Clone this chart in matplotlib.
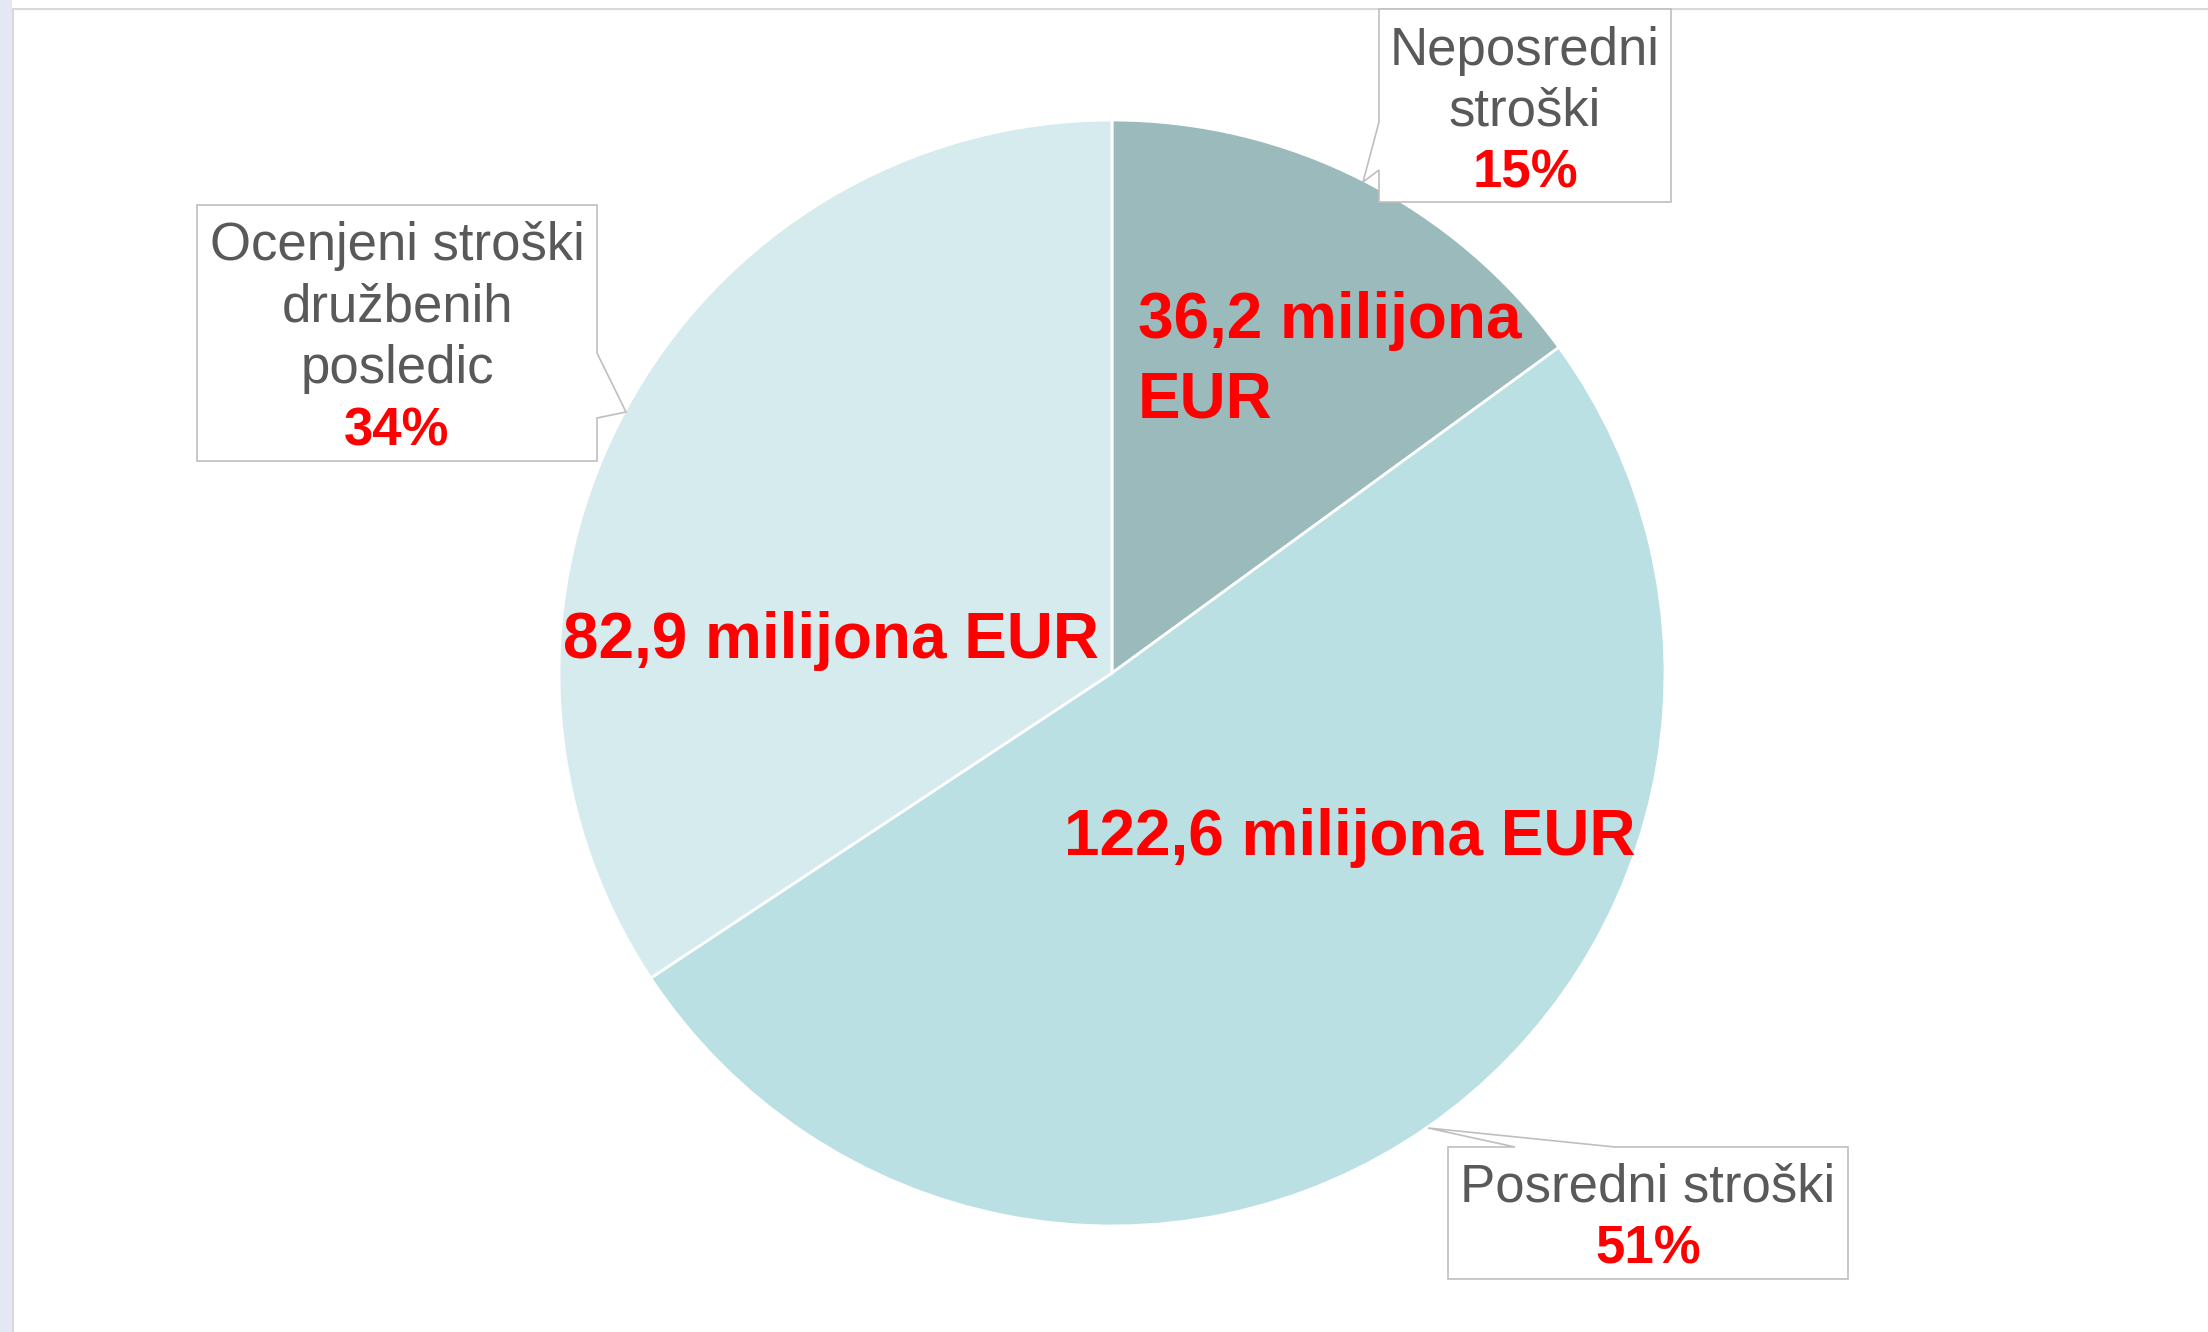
import matplotlib
matplotlib.use("Agg")
import matplotlib.pyplot as plt
from matplotlib.patches import Polygon, Rectangle

plt.rcParams['font.family'] = ['Liberation Sans', 'DejaVu Sans']

# data (milijona EUR)
categories = ["Neposredni stroški", "Posredni stroški", "Ocenjeni stroški družbenih posledic"]
values = [36.2, 122.6, 82.9]
colors = ["#9BBABB", "#BAE0E3", "#D6EBEE"]
value_labels = ["36,2 milijona\nEUR", "122,6 milijona EUR", "82,9 milijona EUR"]
box_lines = [["Neposredni", "stroški"], ["Posredni stroški"], ["Ocenjeni stroški", "družbenih", "posledic"]]

W, H = 2208, 1332
fig = plt.figure(figsize=(W / 100, H / 100), dpi=100)
ax = fig.add_axes([0, 0, 1, 1])


def py(y):
    # pixel row (from top) -> data y
    return H - y


total = sum(values)
pcts = [round(v / total * 100) for v in values]

ax.pie(values, colors=colors, startangle=90, counterclock=False,
       center=(1112, py(673)), radius=553,
       wedgeprops=dict(edgecolor="white", linewidth=2.0))
ax.set_xlim(0, W)
ax.set_ylim(0, H)
ax.set_aspect("equal")
ax.axis("off")

# frame like the slide
ax.add_patch(Rectangle((0, 0), 12, H, facecolor="#E3E8F2", edgecolor="none", zorder=0))
ax.plot([13, W], [py(9), py(9)], color="#D9D9D9", lw=1.5, zorder=1)
ax.plot([13, 13], [0, py(9)], color="#D9D9D9", lw=1.5, zorder=1)

# value labels inside slices
red = "#FF0000"
gray = "#595959"
vfs = 46
ax.text(1138, py(338), value_labels[0].split("\n")[0], color=red, fontsize=vfs,
        fontweight="bold", ha="left", va="baseline", zorder=5)
ax.text(1138, py(417), value_labels[0].split("\n")[1], color=red, fontsize=vfs,
        fontweight="bold", ha="left", va="baseline", zorder=5)
ax.text(1064, py(855), value_labels[1], color=red, fontsize=vfs,
        fontweight="bold", ha="left", va="baseline", zorder=5)
ax.text(563, py(658), value_labels[2], color=red, fontsize=vfs,
        fontweight="bold", ha="left", va="baseline", zorder=5)

# callout boxes (outline incl. pointer), pixel coords
callouts = [
    [(1379, 9), (1671, 9), (1671, 202), (1379, 202), (1379, 170), (1363, 182), (1379, 122)],
    [(1448, 1147), (1515, 1147), (1428, 1128), (1615, 1147), (1848, 1147), (1848, 1279), (1448, 1279)],
    [(197, 205), (597, 205), (597, 353), (626, 412), (597, 418), (597, 461), (197, 461)],
]
box_cx = [1525, 1648, 397]
baselines = [[65, 125, 187], [1202, 1264], [260, 322, 383, 445]]

lfs = 38
for i in range(3):
    pts = [(x, py(y)) for x, y in callouts[i]]
    ax.add_patch(Polygon(pts, closed=True, facecolor="white", edgecolor="#BFBFBF",
                         lw=1.2, zorder=4))
    for j, line in enumerate(box_lines[i]):
        ax.text(box_cx[i], py(baselines[i][j]), line, color=gray, fontsize=lfs,
                ha="center", va="baseline", zorder=6)
    ax.text(box_cx[i], py(baselines[i][-1]), f"{pcts[i]}%", color=red, fontsize=lfs,
            fontweight="bold", ha="center", va="baseline", zorder=6)

fig.savefig("out.png", dpi=100, facecolor="white")
